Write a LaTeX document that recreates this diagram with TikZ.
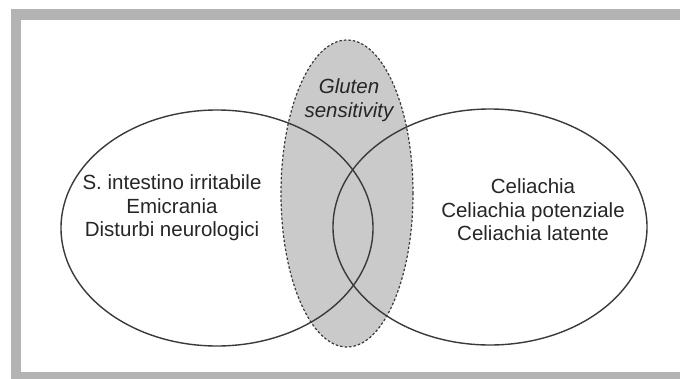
\documentclass[tikz,border=0pt]{standalone}
\usepackage{fontspec}
\setmainfont{Liberation Sans}
\usetikzlibrary{shapes.geometric}
\definecolor{framegray}{HTML}{B3B3B3}
\definecolor{fillgray}{HTML}{CACACA}
\definecolor{linegray}{HTML}{3A3A3A}
\begin{document}
\begin{tikzpicture}[x=1pt,y=-1pt,
  set/.style={draw=linegray, line width=1.4pt, ellipse, inner sep=0pt, outer sep=0pt},
  gs/.style={draw=linegray, line width=1.2pt, dash pattern=on 2.5pt off 2pt, ellipse, inner sep=0pt, outer sep=0pt},
  lbl/.style={align=center, font=\fontsize{20.5}{23.5}\selectfont, text=black!85}]
\useasboundingbox (0,0) rectangle (680,378);
\clip (0,0) rectangle (680,378);
\fill[white] (0,0) rectangle (680,378);
\draw[framegray, line width=10.5pt] (16,14.5) rectangle (700,377.5);
\node[gs, fill=fillgray, draw=none, minimum width=132pt, minimum height=307pt] (Gfill) at (347,193.5) {};
\node[set, minimum width=312pt, minimum height=236pt] (L) at (217,228) {};
\node[set, minimum width=314pt, minimum height=236pt] (R) at (490,227) {};
\node[gs, minimum width=132pt, minimum height=307pt] (G) at (347,193.5) {};
\node[lbl] (Lt) at (172,208) {S. intestino irritabile\\Emicrania\\Disturbi neurologici};
\node[lbl] (Rt) at (533,210) {Celiachia\\Celiachia potenziale\\Celiachia latente};
\node[lbl, font=\fontsize{20.5}{23.5}\selectfont\itshape] (Gt) at (349,100) {Gluten\\sensitivity};
\end{tikzpicture}
\end{document}
